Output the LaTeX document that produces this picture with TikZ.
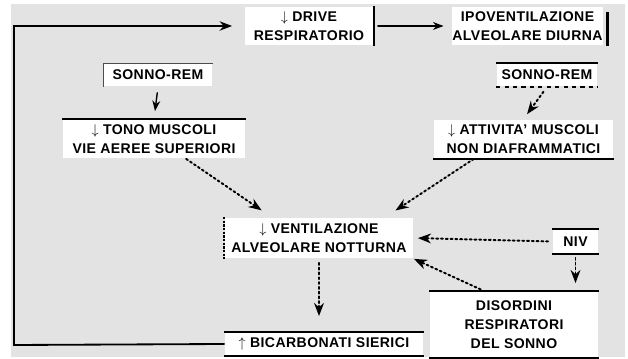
\documentclass[tikz,border=0pt]{standalone}
\usepackage{fontspec}
\setmainfont[LetterSpace=3]{Liberation Sans}
\usetikzlibrary{arrows.meta,calc}
\definecolor{bggray}{gray}{0.89}

\begin{document}
\begin{tikzpicture}[line width=1.3pt, line cap=round, >=Stealth, x=0.25mm, y=-0.25mm,
  box/.style={fill=white, inner sep=0pt, align=center,
    font=\fontsize{10}{13.5}\selectfont\bfseries},
  edge/.style={line width=1.6pt, line cap=butt},
  dotarrow/.style={dotted, line width=1.4pt, ->},
  flowarrow/.style={line width=1pt, ->}]
  \useasboundingbox (0,0) rectangle (628,359);
  \fill[bggray] (11,4) rectangle (625,357);
  % --- boxes (centres in pixel units) ---
  \node[box, minimum width=32mm, minimum height=9.5mm] (drive) at (309,26)
    {$\downarrow$ DRIVE\\RESPIRATORIO};
  \node[box, minimum width=36.25mm, minimum height=9.5mm] (ipo) at (527.5,26)
    {IPOVENTILAZIONE\\ALVEOLARE DIURNA};
  \node[box, minimum width=27mm, minimum height=5.5mm] (remL) at (158,75) {SONNO-REM};
  \node[box, minimum width=25mm, minimum height=5.5mm] (remR) at (547,75) {SONNO-REM};
  \node[box, minimum width=45.5mm, minimum height=9.5mm] (tono) at (154,139)
    {$\downarrow$ TONO MUSCOLI\\VIE AEREE SUPERIORI};
  \node[box, minimum width=44.75mm, minimum height=9.5mm] (attiv) at (523.5,139)
    {$\downarrow$ ATTIVITA' MUSCOLI\\NON DIAFRAMMATICI};
  \node[box, minimum width=47mm, minimum height=10mm] (vent) at (319,238)
    {$\downarrow$ VENTILAZIONE\\ALVEOLARE NOTTURNA};
  \node[box, minimum width=11.25mm, minimum height=5.75mm] (niv) at (575.5,241.5) {NIV};
  \node[box, minimum width=42mm, minimum height=16.25mm] (dis) at (514,324.5)
    {DISORDINI\\RESPIRATORI\\DEL SONNO};
  \node[box, minimum width=49.5mm, minimum height=5.5mm] (bic) at (324,344)
    {$\uparrow$ BICARBONATI SIERICI};
  % --- box edges ---
  \draw[edge] (drive.north east) -- (drive.south east);
  \draw[edge] ($(ipo.north east)+(4,6)$) -- ($(ipo.south east)+(4,0)$);
  \draw[line width=0.8pt, line cap=butt, black!70] (remL.south west) -- (remL.north west) -- (remL.north east);
  \draw[edge] (tono.north west) -- (tono.north east);
  \draw[edge] (remR.north west) -- (remR.north east);
  \draw[edge, dashed] (remR.south west) -- (remR.south east);
  \draw[edge] (attiv.south west) -- (attiv.south east);
  \draw[edge, densely dotted] (vent.north west) -- (vent.south west);
  \draw[edge] (niv.north west) -- (niv.north east);
  \draw[edge] (niv.south west) -- (niv.south east);
  \draw[edge] (dis.north west) -- (dis.north east);
  \draw[edge] (dis.south west) -- (dis.south east);
  \draw[edge] (bic.north west) -- (bic.north east);
  \draw[edge] (bic.south west) -- (bic.south east);
  % --- feedback loop ---
  \coordinate (loop) at (14,345);
  \draw[flowarrow, line width=1.3pt, shorten >=3mm] (bic.west) -- (loop) |- (drive.west);
  % --- connectors ---
  \draw[flowarrow, shorten <=1mm, shorten >=2mm] (drive.east) -- (ipo.west);
  \draw[flowarrow, shorten <=1.5mm, shorten >=2mm] (remL.south) -- (tono.north);
  \draw[dotarrow, shorten <=1.5mm, shorten >=1.5mm] (remR.south) -- (attiv.north);
  \draw[dotarrow, shorten >=3mm]
    ($(tono.south)!0.35!(tono.south east)$) -- ($(vent.north west)!0.25!(vent.north east)$);
  \draw[dotarrow, shorten >=3mm]
    ($(attiv.south)!0.55!(attiv.south west)$) -- ($(vent.north west)!0.85!(vent.north east)$);
  \draw[dotarrow, shorten <=1mm, shorten >=1mm] (niv.west) -- (vent.east);
  \draw[dotarrow, shorten <=1mm]
    ($(dis.north)!0.35!(dis.north west)$) -- (vent.south east);
  \draw[dotarrow, shorten <=1mm, shorten >=2mm] (niv.south) -- (niv.south |- dis.north);
  \draw[dotarrow, shorten <=1mm, shorten >=4mm] (vent.south) -- (vent.south |- bic.north);
\end{tikzpicture}
\end{document}
